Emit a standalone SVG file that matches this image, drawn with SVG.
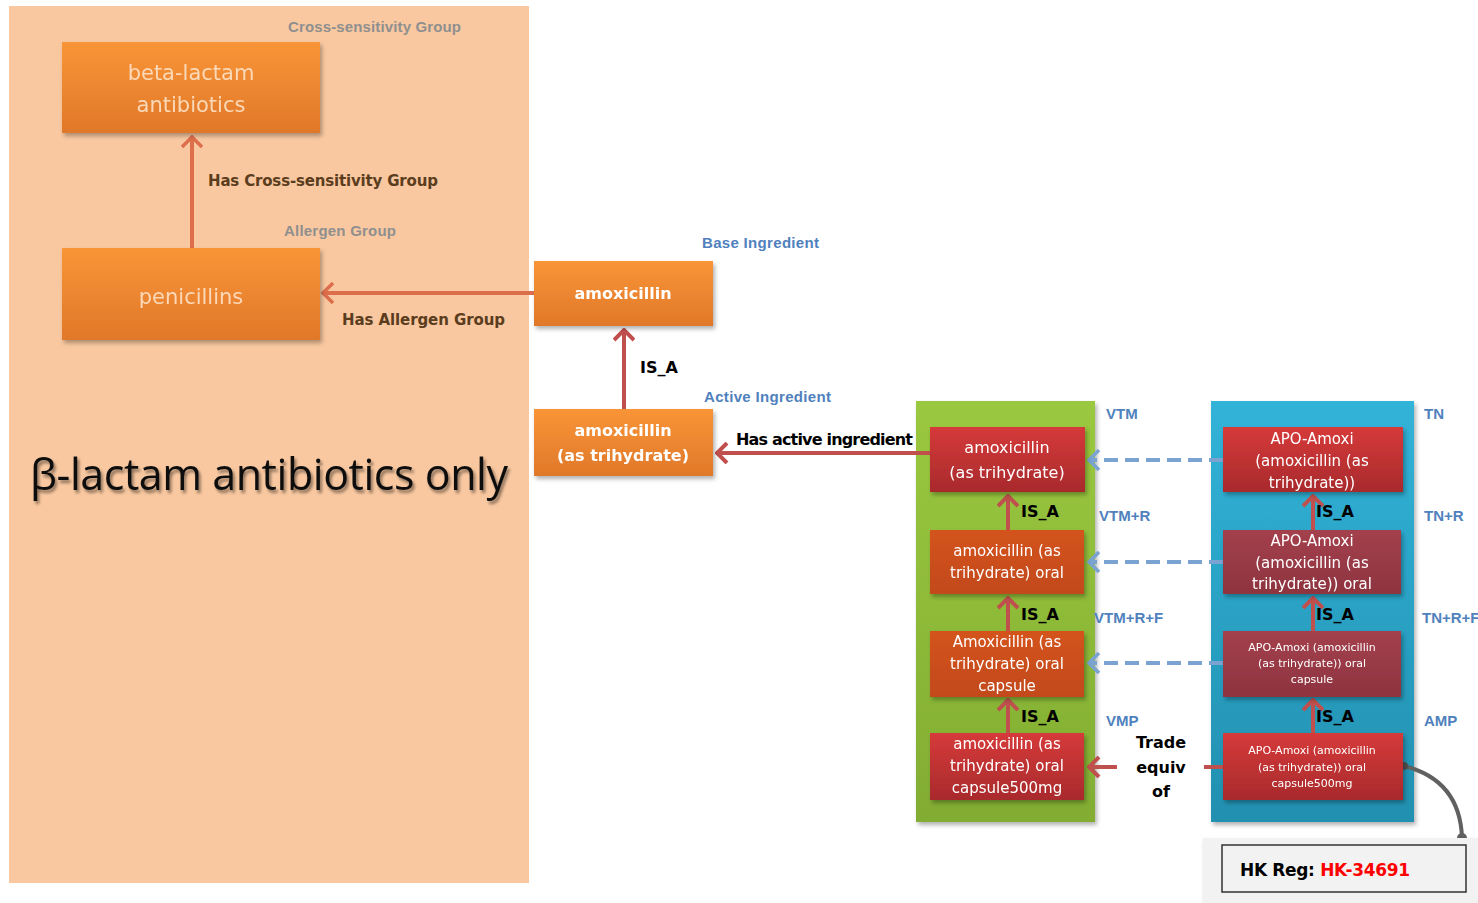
<svg xmlns="http://www.w3.org/2000/svg" width="1478" height="903" viewBox="0 0 1478 903">
<style>
.lbl{font-family:"Liberation Sans",Arial,sans-serif;font-weight:bold;}
.grey{fill:#8f8f8f;font-size:15px;}
.blue{fill:#4f81bd;font-size:15px;}
.brown{fill:#5b3d1e;font-size:15px;font-family:"DejaVu Sans",sans-serif;font-weight:bold;}
.blk{fill:#000;font-size:16px;font-family:"DejaVu Sans",sans-serif;font-weight:bold;}
.nt{font-family:"DejaVu Sans",sans-serif;fill:#fff;text-anchor:middle;}
.conn{fill:none;stroke-width:4;}
</style>
<defs>
<linearGradient id="gOr" x1="0" y1="0" x2="0" y2="1"><stop offset="0" stop-color="#f99537"/><stop offset="1" stop-color="#e0782a"/></linearGradient>
<linearGradient id="gRed" x1="0" y1="0" x2="0" y2="1"><stop offset="0" stop-color="#d63a3a"/><stop offset="1" stop-color="#a82a2c"/></linearGradient>
<linearGradient id="gOr2" x1="0" y1="0" x2="0" y2="1"><stop offset="0" stop-color="#d4531f"/><stop offset="1" stop-color="#c24a1c"/></linearGradient>
<linearGradient id="gMar" x1="0" y1="0" x2="0" y2="1"><stop offset="0" stop-color="#a3404c"/><stop offset="1" stop-color="#8e3440"/></linearGradient>
<linearGradient id="gGreen" x1="0" y1="0" x2="0" y2="1"><stop offset="0" stop-color="#9ac83f"/><stop offset="1" stop-color="#82ad33"/></linearGradient>
<linearGradient id="gBlue" x1="0" y1="0" x2="0" y2="1"><stop offset="0" stop-color="#31b3d8"/><stop offset="1" stop-color="#2290b0"/></linearGradient>
<filter id="sh" x="-10%" y="-10%" width="130%" height="130%"><feDropShadow dx="2" dy="3" stdDeviation="2" flood-color="#000" flood-opacity="0.3"/></filter>
<filter id="tsh"><feDropShadow dx="2" dy="3" stdDeviation="1.5" flood-color="#000" flood-opacity="0.45"/></filter>
<marker id="aO" markerWidth="14" markerHeight="22" refX="12" refY="11" orient="auto" markerUnits="userSpaceOnUse" viewBox="0 0 14 22"><path d="M2,1 L12,11 L2,21" fill="none" stroke="#dd6e4c" stroke-width="3.5"/></marker>
<marker id="aR" markerWidth="14" markerHeight="22" refX="12" refY="11" orient="auto" markerUnits="userSpaceOnUse" viewBox="0 0 14 22"><path d="M2,1 L12,11 L2,21" fill="none" stroke="#c0504d" stroke-width="4"/></marker>
<marker id="aB" markerWidth="14" markerHeight="22" refX="12" refY="11" orient="auto" markerUnits="userSpaceOnUse" viewBox="0 0 14 22"><path d="M2,1 L12,11 L2,21" fill="none" stroke="#7aa3d2" stroke-width="3.5"/></marker>
</defs>

<rect x="9" y="6" width="520" height="877" fill="#f9c8a0"/>
<rect x="916" y="401" width="179" height="421" fill="url(#gGreen)" filter="url(#sh)"/>
<rect x="1211" y="401" width="203" height="421" fill="url(#gBlue)" filter="url(#sh)"/>

<g id="connectors">
<line class="conn" x1="192" y1="248" x2="192" y2="137" stroke="#dd6e4c" marker-end="url(#aO)"/>
<line class="conn" x1="534" y1="293" x2="323" y2="293" stroke="#dd6e4c" marker-end="url(#aO)"/>
<line class="conn" x1="624" y1="409" x2="624" y2="330" stroke="#c0504d" marker-end="url(#aR)"/>
<line class="conn" x1="930" y1="453" x2="717" y2="453" stroke="#c0504d" marker-end="url(#aR)"/>
<line class="conn" x1="1008" y1="530" x2="1008" y2="496" stroke="#c0504d" marker-end="url(#aR)"/>
<line class="conn" x1="1008" y1="631" x2="1008" y2="598" stroke="#c0504d" marker-end="url(#aR)"/>
<line class="conn" x1="1008" y1="733" x2="1008" y2="700" stroke="#c0504d" marker-end="url(#aR)"/>
<line class="conn" x1="1313" y1="530" x2="1313" y2="496" stroke="#c0504d" marker-end="url(#aR)"/>
<line class="conn" x1="1313" y1="631" x2="1313" y2="598" stroke="#c0504d" marker-end="url(#aR)"/>
<line class="conn" x1="1313" y1="733" x2="1313" y2="700" stroke="#c0504d" marker-end="url(#aR)"/>
<line x1="1223" y1="460" x2="1089" y2="460" stroke="#7aa3d2" stroke-width="4" stroke-dasharray="14,7" marker-end="url(#aB)"/>
<line x1="1223" y1="562" x2="1089" y2="562" stroke="#7aa3d2" stroke-width="4" stroke-dasharray="14,7" marker-end="url(#aB)"/>
<line x1="1223" y1="663" x2="1089" y2="663" stroke="#7aa3d2" stroke-width="4" stroke-dasharray="14,7" marker-end="url(#aB)"/>
<line class="conn" x1="1117" y1="767" x2="1089" y2="767" stroke="#c0504d" marker-end="url(#aR)"/>
<line class="conn" x1="1204" y1="767" x2="1224" y2="767" stroke="#c0504d"/>
<path d="M1404,766 Q1460,780 1462,838" fill="none" stroke="#606060" stroke-width="4"/>
<circle cx="1404" cy="766" r="4" fill="#505050"/>
<circle cx="1462" cy="838" r="5" fill="#606060"/>
</g>

<g id="n-beta" filter="url(#sh)"><rect x="62" y="42" width="258" height="91" fill="url(#gOr)"/>
<text class="nt" x="191" y="80" font-size="21" style="fill:#fbd9b8">beta-lactam</text><text class="nt" x="191" y="112" font-size="21" style="fill:#fbd9b8">antibiotics</text></g>
<g id="n-pen" filter="url(#sh)"><rect x="62" y="248" width="258" height="92" fill="url(#gOr)"/>
<text class="nt" x="191" y="304" font-size="21" style="fill:#fbd9b8">penicillins</text></g>
<g id="n-amox" filter="url(#sh)"><rect x="534" y="261" width="179" height="65" fill="url(#gOr)"/>
<text class="nt" x="623" y="299" font-size="16" font-weight="bold">amoxicillin</text></g>
<g id="n-amoxtri" filter="url(#sh)"><rect x="534" y="409" width="179" height="67" fill="url(#gOr)"/>
<text class="nt" x="623" y="436" font-size="16" font-weight="bold">amoxicillin</text><text class="nt" x="623" y="461" font-size="16" font-weight="bold">(as trihydrate)</text></g>

<g id="n-vtm" filter="url(#sh)"><rect x="930" y="427" width="155" height="65" fill="url(#gRed)"/>
<text class="nt" x="1007" y="453" font-size="16">amoxicillin</text><text class="nt" x="1007" y="478" font-size="16">(as trihydrate)</text></g>
<g id="n-vtmr" filter="url(#sh)"><rect x="930" y="530" width="154" height="64" fill="url(#gOr2)"/>
<text class="nt" x="1007" y="556" font-size="15">amoxicillin (as</text><text class="nt" x="1007" y="578" font-size="15">trihydrate) oral</text></g>
<g id="n-vtmrf" filter="url(#sh)"><rect x="930" y="631" width="154" height="66" fill="url(#gOr2)"/>
<text class="nt" x="1007" y="647" font-size="15">Amoxicillin (as</text><text class="nt" x="1007" y="669" font-size="15">trihydrate) oral</text><text class="nt" x="1007" y="691" font-size="15">capsule</text></g>
<g id="n-vmp" filter="url(#sh)"><rect x="930" y="733" width="154" height="67" fill="url(#gRed)"/>
<text class="nt" x="1007" y="749" font-size="15">amoxicillin (as</text><text class="nt" x="1007" y="771" font-size="15">trihydrate) oral</text><text class="nt" x="1007" y="793" font-size="15">capsule500mg</text></g>

<g id="n-tn" filter="url(#sh)"><rect x="1223" y="427" width="180" height="65" fill="url(#gRed)"/>
<text class="nt" x="1312" y="444" font-size="15">APO-Amoxi</text><text class="nt" x="1312" y="466" font-size="15">(amoxicillin (as</text><text class="nt" x="1312" y="488" font-size="15">trihydrate))</text></g>
<g id="n-tnr" filter="url(#sh)"><rect x="1223" y="530" width="178" height="64" fill="url(#gMar)"/>
<text class="nt" x="1312" y="546" font-size="15">APO-Amoxi</text><text class="nt" x="1312" y="568" font-size="15">(amoxicillin (as</text><text class="nt" x="1312" y="589" font-size="15">trihydrate)) oral</text></g>
<g id="n-tnrf" filter="url(#sh)"><rect x="1223" y="631" width="178" height="66" fill="url(#gMar)"/>
<text class="nt" x="1312" y="651" font-size="11">APO-Amoxi (amoxicillin</text><text class="nt" x="1312" y="667" font-size="11">(as trihydrate)) oral</text><text class="nt" x="1312" y="683" font-size="11">capsule</text></g>
<g id="n-amp" filter="url(#sh)"><rect x="1223" y="733" width="180" height="67" fill="url(#gRed)"/>
<text class="nt" x="1312" y="754" font-size="11">APO-Amoxi (amoxicillin</text><text class="nt" x="1312" y="771" font-size="11">(as trihydrate)) oral</text><text class="nt" x="1312" y="787" font-size="11">capsule500mg</text></g>

<g id="n-hkreg"><rect x="1203" y="838" width="275" height="65" fill="#f2f2f2" filter="url(#sh)"/>
<rect x="1222" y="845" width="244" height="47" fill="#f2f2f2" stroke="#333" stroke-width="1.5"/>
<text x="1240" y="876" font-family="'DejaVu Sans',sans-serif" font-weight="bold" font-size="17" fill="#000" textLength="170">HK Reg: <tspan fill="#ff0000">HK-34691</tspan></text></g>

<g id="labels">
<text class="lbl grey" x="288" y="32" textLength="173">Cross-sensitivity Group</text>
<text class="brown" x="208" y="186" textLength="230">Has Cross-sensitivity Group</text>
<text class="lbl grey" x="284" y="236" textLength="112">Allergen Group</text>
<text class="brown" x="342" y="325" textLength="163">Has Allergen Group</text>
<text class="lbl blue" x="702" y="248" textLength="117">Base Ingredient</text>
<text class="blk" x="640" y="373">IS_A</text>
<text class="lbl blue" x="704" y="402" textLength="127">Active Ingredient</text>
<text class="blk" x="736" y="445" textLength="177">Has active ingredient</text>
<text x="30" y="490" font-family="'Open Sans','DejaVu Sans',sans-serif" font-size="43" fill="#111" filter="url(#tsh)" textLength="478">β-lactam antibiotics only</text>
<text class="blk" x="1021" y="517" font-size="15">IS_A</text>
<text class="blk" x="1021" y="620" font-size="15">IS_A</text>
<text class="blk" x="1021" y="722" font-size="15">IS_A</text>
<text class="blk" x="1316" y="517" font-size="15">IS_A</text>
<text class="blk" x="1316" y="620" font-size="15">IS_A</text>
<text class="blk" x="1316" y="722" font-size="15">IS_A</text>
<text class="lbl blue" x="1106" y="419">VTM</text>
<text class="lbl blue" x="1099" y="521">VTM+R</text>
<text class="lbl blue" x="1094" y="623">VTM+R+F</text>
<text class="lbl blue" x="1106" y="726">VMP</text>
<text class="lbl blue" x="1424" y="419">TN</text>
<text class="lbl blue" x="1424" y="521">TN+R</text>
<text class="lbl blue" x="1422" y="623" font-size="14">TN+R+F</text>
<text class="lbl blue" x="1424" y="726">AMP</text>
<text class="blk" x="1161" y="748" text-anchor="middle">Trade</text>
<text class="blk" x="1161" y="773" text-anchor="middle">equiv</text>
<text class="blk" x="1161" y="797" text-anchor="middle">of</text>
</g>
</svg>
